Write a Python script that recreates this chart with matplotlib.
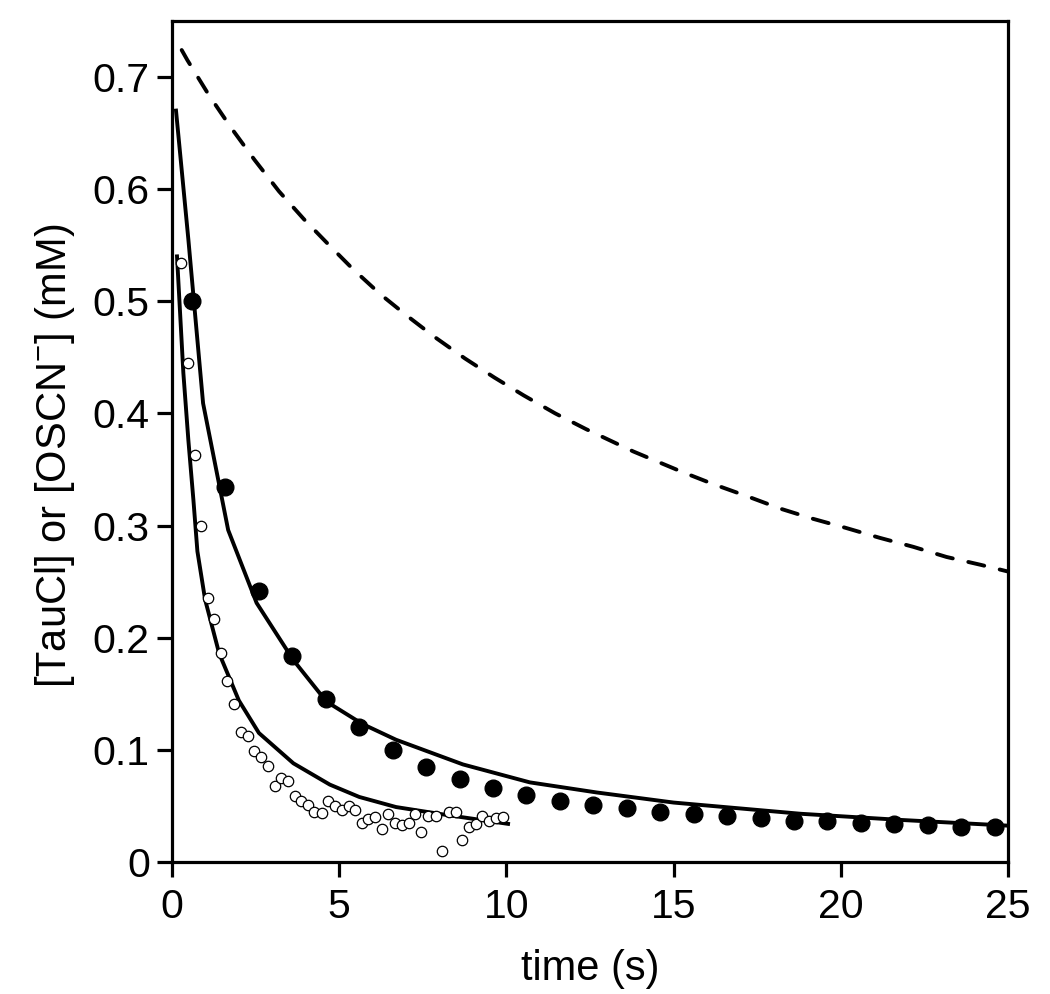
import matplotlib
matplotlib.use("Agg")
import matplotlib.pyplot as plt

plt.rcParams['font.family'] = ['Liberation Sans', 'DejaVu Sans']
plt.rcParams['mathtext.fontset'] = 'custom'
plt.rcParams['mathtext.rm'] = 'Liberation Sans'
plt.rcParams['mathtext.it'] = 'Liberation Sans'

# Filled circles: [TauCl] data (s, mM)
tau_t = [0.6, 1.6, 2.6, 3.6, 4.6, 5.6, 6.6, 7.6, 8.6, 9.6, 10.6, 11.6, 12.6,
         13.6, 14.6, 15.6, 16.6, 17.6, 18.6, 19.6, 20.6, 21.6, 22.6, 23.6, 24.6]
tau_c = [0.500, 0.334, 0.242, 0.184, 0.145, 0.120, 0.100, 0.085, 0.074, 0.066,
         0.060, 0.054, 0.051, 0.048, 0.045, 0.043, 0.041, 0.039, 0.037, 0.0366,
         0.035, 0.034, 0.033, 0.0315, 0.031]

# Open circles: [OSCN-] data
oscn_t = [0.26, 0.47, 0.68, 0.86, 1.07, 1.27, 1.46, 1.65, 1.85, 2.06, 2.27, 2.46,
          2.67, 2.87, 3.07, 3.27, 3.47, 3.67, 3.87, 4.07, 4.26, 4.48, 4.67, 4.87,
          5.07, 5.28, 5.47, 5.67, 5.87, 6.07, 6.27, 6.47, 6.67, 6.87, 7.10, 7.28,
          7.46, 7.66, 7.89, 8.08, 8.28, 8.48, 8.68, 8.88, 9.08, 9.28, 9.49, 9.69, 9.89]
oscn_c = [0.534, 0.445, 0.363, 0.300, 0.235, 0.217, 0.186, 0.161, 0.141, 0.116,
          0.112, 0.099, 0.094, 0.086, 0.068, 0.075, 0.072, 0.059, 0.054, 0.051,
          0.045, 0.044, 0.054, 0.050, 0.046, 0.050, 0.046, 0.035, 0.038, 0.040,
          0.029, 0.043, 0.035, 0.033, 0.035, 0.043, 0.027, 0.041, 0.041, 0.010,
          0.045, 0.045, 0.020, 0.031, 0.034, 0.041, 0.037, 0.039, 0.040]

# Model fit for TauCl (solid, upper)
fit_tau_t = [0.12, 0.49, 0.93, 1.68, 2.53, 3.63, 4.62, 5.7, 6.7, 8.7, 10.7, 12.7,
             15.0, 18.8, 21.8, 25.0]
fit_tau_c = [0.670, 0.555, 0.409, 0.296, 0.231, 0.180, 0.143, 0.123, 0.109, 0.087,
             0.071, 0.062, 0.053, 0.043, 0.0375, 0.0324]

# Model fit for OSCN- (solid, lower)
fit_oscn_t = [0.15, 0.34, 0.49, 0.64, 0.76, 0.99, 1.41, 2.0, 2.6, 3.63, 4.72,
              5.6, 6.7, 8.2, 10.05]
fit_oscn_c = [0.540, 0.436, 0.376, 0.323, 0.277, 0.234, 0.186, 0.144, 0.115,
              0.088, 0.069, 0.058, 0.049, 0.042, 0.034]

# Dashed curve
dash_t = [0.29, 0.46, 1.10, 1.76, 2.47, 3.20, 3.95, 4.70, 5.40, 6.24, 7.03, 7.86,
          8.76, 9.64, 10.52, 11.46, 12.38, 13.8, 15.24, 16.18, 17.21, 18.20, 19.17,
          20.14, 21.17, 22.17, 23.16, 24.18, 25.0]
dash_c = [0.724, 0.715, 0.684, 0.655, 0.626, 0.598, 0.573, 0.550, 0.529, 0.506,
          0.487, 0.468, 0.449, 0.432, 0.416, 0.400, 0.386, 0.366, 0.348, 0.337,
          0.326, 0.315, 0.306, 0.298, 0.289, 0.281, 0.272, 0.265, 0.259]

fig = plt.figure(figsize=(10.5, 9.94), dpi=100)
ax = fig.add_axes([0.1638, 0.1328, 0.7962, 0.8462])

ax.plot(dash_t, dash_c, color='black', lw=2.8, linestyle=(0, (4.2, 4.1)),
        dash_capstyle='round')
ax.plot(fit_tau_t, fit_tau_c, color='black', lw=2.8)
ax.plot(fit_oscn_t, fit_oscn_c, color='black', lw=2.8)
ax.plot(tau_t, tau_c, linestyle='none', marker='o', ms=12, color='black')
ax.plot(oscn_t, oscn_c, linestyle='none', marker='o', ms=7.5,
        markerfacecolor='white', markeredgecolor='black', markeredgewidth=0.9)

ax.set_xlim(0, 25)
ax.set_ylim(0, 0.75)
ax.set_xticks([0, 5, 10, 15, 20, 25])
ax.set_yticks([0, 0.1, 0.2, 0.3, 0.4, 0.5, 0.6, 0.7])
ax.set_yticklabels(['0', '0.1', '0.2', '0.3', '0.4', '0.5', '0.6', '0.7'])

for s in ax.spines.values():
    s.set_linewidth(2.3)
ax.tick_params(direction='out', length=11, width=2.3, labelsize=29.5)
ax.tick_params(axis='x', pad=8)
ax.tick_params(axis='y', pad=5)

ax.set_xlabel('time (s)', fontsize=30, labelpad=16)
ax.set_ylabel(r'[TauCl] or [OSCN$^{\mathregular{-}}$] (mM)', fontsize=30)
ax.yaxis.set_label_coords(-0.114, 0.483)

fig.savefig('out.png', dpi=100)
